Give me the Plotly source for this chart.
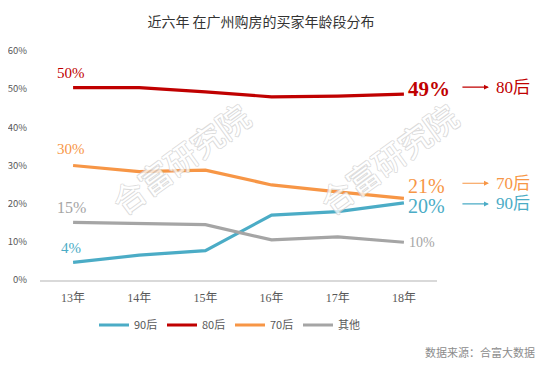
import plotly.graph_objects as go

years = ["13年", "14年", "15年", "16年", "17年", "18年"]
series_names = ["90后", "80后", "70后", "其他"]
v90 = [0.046, 0.065, 0.077, 0.170, 0.179, 0.202]
v80 = [0.504, 0.504, 0.493, 0.480, 0.482, 0.487]
v70 = [0.300, 0.284, 0.288, 0.249, 0.231, 0.214]
vother = [0.151, 0.147, 0.145, 0.105, 0.113, 0.099]
colors = ["#4bacc6", "#c00000", "#f79646", "#a5a5a5"]
start_labels = ["4%", "50%", "30%", "15%"]
end_labels = ["20%", "49%", "21%", "10%"]
ytick_vals = [0, 0.1, 0.2, 0.3, 0.4, 0.5, 0.6]
ytick_text = ["0%", "10%", "20%", "30%", "40%", "50%", "60%"]
title_text = "近六年 在广州购房的买家年龄段分布"
source_text = "数据来源：合富大数据"
watermark = "合富研究院"

all_vals = [v90, v80, v70, vother]

SERIF = "Liberation Serif, Noto Sans CJK SC, serif"
SANS = "Noto Sans CJK SC, Liberation Sans, sans-serif"

# page body has an 8px margin; figure laid out in its own coordinates
OFF = 8
W, H = 550 - OFF, 368 - OFF
PL, PT, PW, PH = 40 - OFF, 51 - OFF, 397, 229


def px_x(x):  # reference pixel -> paper fraction
    return (x - 40) / PW


def px_y(y):
    return (280 - y) / PH


fig = go.Figure()
for name, vals, col in zip(series_names, all_vals, colors):
    fig.add_trace(go.Scatter(x=years, y=vals, name=name, mode="lines",
                             line=dict(color=col, width=3.2)))

ann = []
# watermark (drawn first, beneath the labels)
for wx, wy in [(180, 158), (388, 158)]:
    ann.append(dict(x=px_x(wx), y=px_y(wy), xref="paper", yref="paper",
                    text=watermark, showarrow=False, textangle=-36,
                    xanchor="center", yanchor="middle", opacity=0.75,
                    font=dict(family=SANS, size=32, color="white",
                              shadow="1px 0 0 #cfcfcf, -1px 0 0 #cfcfcf, 0 1px 0 #cfcfcf, 0 -1px 0 #cfcfcf")))

# start labels (left)
start_shift = [14, 15, 17, 15]
start_size = [15, 15, 15, 16]
for vals, col, lab, ys, fs in zip(all_vals, colors, start_labels, start_shift, start_size):
    ann.append(dict(x=years[0], y=vals[0], xref="x", yref="y", text=lab, showarrow=False,
                    xanchor="center", yanchor="middle", xshift=-2, yshift=ys,
                    font=dict(family=SERIF, size=fs, color=col)))

# end labels (right)
end_shift = [-3, 5, 12, 0]
end_size = [20, 21, 20, 14]
end_bold = [False, True, False, False]
for vals, col, lab, ys, fs, b in zip(all_vals, colors, end_labels, end_shift, end_size, end_bold):
    ann.append(dict(x=years[-1], y=vals[-1], xref="x", yref="y",
                    text=("<b>%s</b>" % lab) if b else lab, showarrow=False,
                    xanchor="left", yanchor="middle", xshift=2 if fs > 15 else 3, yshift=ys,
                    font=dict(family=SERIF, size=fs, color=col)))

# arrows + series names at right (90后, 80后, 70后)
arrow_shift = [-1, 7, 15]
for i, ys in zip([0, 1, 2], arrow_shift):
    vals, col, name = all_vals[i], colors[i], series_names[i]
    ann.append(dict(x=years[-1], y=vals[-1], xref="x", yref="y", text="",
                    showarrow=True, arrowhead=2, arrowsize=0.9, arrowwidth=1.1,
                    arrowcolor=col, ax=-28, ay=0, xshift=85, yshift=ys))
    ann.append(dict(x=years[-1], y=vals[-1], xref="x", yref="y", text=name,
                    showarrow=False, xanchor="left", yanchor="middle",
                    xshift=90, yshift=ys,
                    font=dict(family=SERIF, size=17, color=col)))

# source
ann.append(dict(x=px_x(537), y=px_y(352), xref="paper", yref="paper",
                text=source_text, showarrow=False, xanchor="right", yanchor="middle",
                font=dict(family=SANS, size=11, color="#8c8c8c")))

fig.update_layout(
    width=W, height=H,
    margin=dict(l=PL, r=W - PL - PW, t=PT, b=H - PT - PH, autoexpand=False),
    paper_bgcolor="white", plot_bgcolor="white",
    title=dict(text=title_text, x=(261 - OFF) / W, xanchor="center",
               y=1 - (22 - OFF) / H, yanchor="middle",
               font=dict(family=SANS, size=14, color="#333333")),
    xaxis=dict(type="category", range=[-0.5, 5.5], showgrid=False, zeroline=False,
               showline=True, linecolor="#d9d9d9", linewidth=1.5, ticks="",
               ticklabelstandoff=6, automargin=False,
               tickfont=dict(family=SERIF, size=12, color="#595959"), fixedrange=True),
    yaxis=dict(range=[0, 0.6], tickvals=ytick_vals, ticktext=ytick_text, showgrid=False,
               zeroline=False, showline=False, ticks="", ticklabelstandoff=12,
               automargin=False,
               tickfont=dict(family=SANS, size=9.5, color="#595959"), fixedrange=True),
    showlegend=True,
    legend=dict(orientation="h", x=px_x(94), xanchor="left", y=px_y(325),
                yanchor="middle", font=dict(family=SANS, size=11, color="#595959"),
                entrywidth=23, entrywidthmode="pixels", itemwidth=30,
                bgcolor="rgba(0,0,0,0)", tracegroupgap=0),
    annotations=ann,
)

fig.write_html("out.html")
